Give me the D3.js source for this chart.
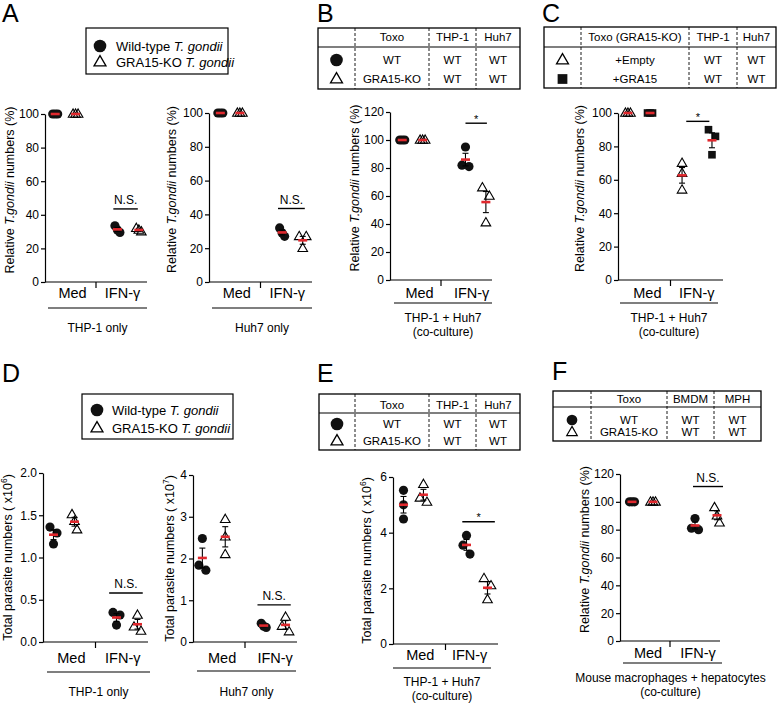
<!DOCTYPE html>
<html><head><meta charset="utf-8">
<script src="https://cdn.jsdelivr.net/npm/d3@7"></script>
<style>body{margin:0;background:#fff}</style>
</head><body><svg id="c" width="777" height="703"></svg>
<script>
// ---------------- DATA ----------------
const conditions = ["Med", "IFN-γ"];
// A: relative T. gondii numbers (%), [Med values, IFN-γ values]
const aThpWT = [[100,100,100],[33.5,29.5,31]];
const aThpKO = [[100,100,100],[32,31,30]];
const aHuhWT = [[100,100,100],[32,29,27]];
const aHuhKO = [[100,100,100],[27,27,20]];
// B: THP-1 + Huh7 co-culture (%)
const bWT = [[100,100,100],[95,81,82]];
const bKO = [[100,100,100],[66,60,41]];
// C: GRA15-KO +Empty / +GRA15 (%)
const cEmpty = [[100,100,100],[70,64,54]];
const cGRA15 = [[100,100,100],[90,86,75]];
// D: total parasite numbers
const dThpWT = [[1.36,1.29,1.16],[0.20,0.35,0.32]];
const dThpKO = [[1.33,1.51,1.43],[0.13,0.32,0.18]];
const dHuhWT = [[1.72,2.48,1.84],[0.45,0.35,0.38]];
const dHuhKO = [[2.94,2.52,2.10],[0.25,0.60,0.38]];
// E: THP-1 + Huh7 total parasite numbers (x10^6)
const eWT = [[5.52,5.0,4.49],[3.23,3.9,3.55]];
const eKO = [[5.1,5.74,5.25],[2.36,2.1,1.6]];
// F: mouse macrophages + hepatocytes (%)
const fWT = [[100,100,100],[88,80,81]];
const fKO = [[100,100,100],[96,90,85]];
// tick labels
const ticksPct100 = [0,20,40,60,80,100];
const ticksPct120 = [0,20,40,60,80,100,120];
const ticksD1 = [0,0.5,1.0,1.5,2.0];
const ticksD2 = [0,1,2,3,4];
const ticksE = [0,2,4,6];
// table texts
const tableHeadBE = ["Toxo","THP-1","Huh7"];
const tableHeadC = ["Toxo (GRA15-KO)","THP-1","Huh7"];
const tableHeadF = ["Toxo","BMDM","MPH"];
const tableRowsBEF = [["WT","WT","WT"],["GRA15-KO","WT","WT"]];
const tableRowsC = [["+Empty","WT","WT"],["+GRA15","WT","WT"]];

// ---------------- DRAWING ----------------
const FONT = "'Liberation Sans', Arial, Helvetica, sans-serif";
const svg = d3.select("#c").attr("font-family", FONT);
const RED = "#e0282d";
const SIZES = {
  plot: {circle: 66, triangle: 40, square: 58, sw: 1.1},
  big: {circle: 125, triangle: 62, square: 95, sw: 1.3},
  mid: {circle: 90, triangle: 48, square: 70, sw: 1.2}
};

function drawMarker(g, shape, x, y, kind) {
  const sz = SIZES[kind];
  const type = shape === "circle" ? d3.symbolCircle : shape === "triangle" ? d3.symbolTriangle : d3.symbolSquare;
  const p = g.append("path")
    .attr("d", d3.symbol().type(type).size(sz[shape])())
    .attr("transform", `translate(${x},${y + (shape === "triangle" ? 0.5 : 0)})`);
  if (shape === "triangle") p.attr("fill", "none").attr("stroke", "#000").attr("stroke-width", sz.sw);
  else p.attr("fill", "#111");
}

function swarm(pys, r) {
  const idx = pys.map((v, i) => i).sort((a, b) => pys[a] - pys[b]);
  const clusters = []; let cur = [idx[0]];
  for (let k = 1; k < idx.length; k++) {
    if (pys[idx[k]] - pys[idx[k - 1]] < r * 2) cur.push(idx[k]);
    else { clusters.push(cur); cur = [idx[k]]; }
  }
  clusters.push(cur);
  const off = new Array(pys.length).fill(0);
  clusters.forEach(c => {
    const n = c.length, step = n >= 3 ? 2.5 : 7;
    c.forEach((i, j) => off[i] = (j - (n - 1) / 2) * step);
  });
  return off;
}

function drawPanel(p) {
  const g = svg.append("g");
  const y = d3.scaleLinear().domain([0, p.max]).range([p.y0, p.yTop]);
  const x = d3.scaleLinear().domain([0, 1]).range([p.ax, p.xEnd]);
  const pos = p.pos || [0.1, 0.3, 0.71, 0.92];
  const lab = p.lab || [0.27, 0.76];

  const ya = g.append("g").attr("transform", `translate(${p.ax},0)`)
    .call(d3.axisLeft(y).tickValues(p.ticks).tickSize(4).tickSizeOuter(0).tickPadding(2).tickFormat(p.fmt));
  ya.selectAll("text").attr("font-size", 12).attr("font-family", FONT).attr("fill", "#000");
  ya.selectAll("line,path").attr("stroke", "#000").attr("stroke-width", 1.2);

  g.append("line").attr("x1", p.ax).attr("x2", p.xEnd).attr("y1", p.y0).attr("y2", p.y0)
    .attr("stroke", "#000").attr("stroke-width", 1.2);
  g.append("line").attr("x1", x(0.5)).attr("x2", x(0.5)).attr("y1", p.y0).attr("y2", p.y0 + 6)
    .attr("stroke", "#000").attr("stroke-width", 1.2);

  conditions.forEach((c, i) => g.append("text").attr("x", x(lab[i])).attr("y", p.y0 + p.labOff)
    .attr("text-anchor", "middle").attr("font-size", 14.5).text(c));

  g.append("line").attr("x1", p.under[0]).attr("x2", p.under[1]).attr("y1", p.underY).attr("y2", p.underY)
    .attr("stroke", "#000").attr("stroke-width", 1.1);
  p.caption.forEach((c, i) => g.append("text").attr("x", (p.under[0] + p.under[1]) / 2 + (p.capDx || 0))
    .attr("y", p.capY + i * 14).attr("text-anchor", "middle").attr("font-size", 12).text(c));

  // y label
  const yl = g.append("text").attr("text-anchor", "middle").attr("font-size", 12.5)
    .attr("transform", `translate(${p.ylx + 4},${(p.y0 + p.yTop) / 2 + (p.yldy || 0)}) rotate(-90)`);
  if (p.ylab === "rel") {
    yl.append("tspan").text("Relative ");
    yl.append("tspan").attr("font-style", "italic").text("T.gondii");
    yl.append("tspan").text(" numbers (%)");
  } else {
    yl.append("tspan").text("Total parasite numbers ( x10");
    yl.append("tspan").attr("font-size", 8.5).attr("dy", -5).text(p.ylab);
    yl.append("tspan").attr("dy", 5).text(")");
  }

  // data
  const r = 4.5;
  p.series.forEach((s, si) => {
    s.data.forEach((vals, ci) => {
      const cx = x(pos[ci * 2 + si]);
      const pys = vals.map(v => y(v));
      const offs = swarm(pys, r);
      vals.forEach((v, k) => drawMarker(g, s.shape, cx + offs[k], y(v), "plot"));
      const m = d3.mean(vals), sem = d3.deviation(vals) / Math.sqrt(vals.length);
      if (sem > 0) {
        g.append("line").attr("x1", cx).attr("x2", cx).attr("y1", y(m - sem)).attr("y2", y(m + sem))
          .attr("stroke", "#000").attr("stroke-width", 1.1);
        [m - sem, m + sem].forEach(e => g.append("line").attr("x1", cx - 3).attr("x2", cx + 3)
          .attr("y1", y(e)).attr("y2", y(e)).attr("stroke", "#000").attr("stroke-width", 1.1));
      }
      g.append("line").attr("x1", cx - 4.5).attr("x2", cx + 4.5).attr("y1", y(m)).attr("y2", y(m))
        .attr("stroke", RED).attr("stroke-width", 2.6);
    });
  });

  // significance
  const sy = y(p.sig.y);
  g.append("line").attr("x1", x(p.sig.x[0])).attr("x2", x(p.sig.x[1])).attr("y1", sy).attr("y2", sy)
    .attr("stroke", "#000").attr("stroke-width", 1.4);
  g.append("text").attr("x", (x(p.sig.x[0]) + x(p.sig.x[1])) / 2)
    .attr("y", p.sig.text === "*" ? sy - 0.5 : sy - 4.5)
    .attr("text-anchor", "middle").attr("font-size", p.sig.text === "*" ? 11 : 12).text(p.sig.text);
}

function drawLegend(L) {
  const g = svg.append("g");
  g.append("rect").attr("x", L.x1).attr("y", L.y1).attr("width", L.x2 - L.x1).attr("height", L.y2 - L.y1)
    .attr("fill", "none").attr("stroke", "#000").attr("stroke-width", 1.2);
  [["circle", "Wild-type "], ["triangle", "GRA15-KO "]].forEach((e, i) => {
    const yy = L.ys[i];
    drawMarker(g, e[0], L.mx, yy, "big");
    const t = g.append("text").attr("x", L.tx).attr("y", yy + 4.5).attr("font-size", 13);
    t.append("tspan").text(e[1]);
    t.append("tspan").attr("font-style", "italic").text("T. gondii");
  });
}

function drawTable(T) {
  const g = svg.append("g");
  g.append("rect").attr("x", T.x1).attr("y", T.y1).attr("width", T.x2 - T.x1).attr("height", T.y2 - T.y1)
    .attr("fill", "none").attr("stroke", "#000").attr("stroke-width", 1.3);
  g.append("line").attr("x1", T.x1).attr("x2", T.x2).attr("y1", T.hy).attr("y2", T.hy)
    .attr("stroke", "#000").attr("stroke-width", 1.1);
  T.cols.forEach(cx => g.append("line").attr("x1", cx).attr("x2", cx).attr("y1", T.y1).attr("y2", T.y2)
    .attr("stroke", "#000").attr("stroke-width", 0.9).attr("stroke-dasharray", "3,2"));
  const edges = T.cols.concat([T.x2]);
  const centers = [0, 1, 2].map(i => (edges[i] + edges[i + 1]) / 2);
  T.head.forEach((h, i) => g.append("text").attr("x", centers[i]).attr("y", T.ty[0])
    .attr("text-anchor", "middle").attr("font-size", 11.5).text(h));
  T.rows.forEach((row, ri) => {
    drawMarker(g, T.shapes[ri], (T.x1 + T.cols[0]) / 2, T.ty[ri + 1] - 4, T.kind || "big");
    row.forEach((c, i) => g.append("text").attr("x", centers[i]).attr("y", T.ty[ri + 1])
      .attr("text-anchor", "middle").attr("font-size", 11.5).text(c));
  });
}

function letter(t, x, yy) {
  svg.append("text").attr("x", x).attr("y", yy).attr("font-size", 25).text(t);
}

// ---- Panel A ----
letter("A", 2, 22);
drawLegend({x1: 86, x2: 228, y1: 28, y2: 74, mx: 100, tx: 116, ys: [46, 62]});
drawPanel({ax: 45, xEnd: 147, y0: 282, yTop: 114, max: 100, ticks: ticksPct100, fmt: d3.format("d"),
  labOff: 16, underY: 308, under: [48, 147], caption: ["THP-1 only"], capY: 332, ylx: 10, ylab: "rel", yldy: -8,
  series: [{shape: "circle", data: aThpWT}, {shape: "triangle", data: aThpKO}],
  sig: {text: "N.S.", y: 43.5, x: [0.67, 0.91]}});
drawPanel({ax: 209, xEnd: 312, y0: 282, yTop: 113, max: 100, ticks: ticksPct100, fmt: d3.format("d"),
  pos: [0.11, 0.30, 0.71, 0.91],
  labOff: 16, underY: 308, under: [212, 312], caption: ["Huh7 only"], capY: 332, ylx: 172, ylab: "rel", yldy: -8,
  series: [{shape: "circle", data: aHuhWT}, {shape: "triangle", data: aHuhKO}],
  sig: {text: "N.S.", y: 43.5, x: [0.67, 0.93]}});

// ---- Panel B ----
letter("B", 317, 22);
drawTable({x1: 318, x2: 520, y1: 28, y2: 89, hy: 47, cols: [355, 429, 476], head: tableHeadBE,
  rows: tableRowsBEF, shapes: ["circle", "triangle"], ty: [41, 64, 83]});
drawPanel({ax: 390, xEnd: 492, y0: 280, yTop: 112, max: 120, ticks: ticksPct120, fmt: d3.format("d"),
  pos: [0.12, 0.32, 0.74, 0.94], lab: [0.29, 0.8],
  labOff: 18, underY: 303, under: [394, 492], caption: ["THP-1 + Huh7", "(co-culture)"], capY: 322, ylx: 355, ylab: "rel", yldy: -8,
  series: [{shape: "circle", data: bWT}, {shape: "triangle", data: bKO}],
  sig: {text: "*", y: 112, x: [0.74, 0.95]}});

// ---- Panel C ----
letter("C", 542, 22);
drawTable({x1: 544, x2: 776, y1: 27, y2: 88, hy: 47, cols: [581, 689, 737], head: tableHeadC,
  rows: tableRowsC, shapes: ["triangle", "square"], ty: [41, 64, 83]});
drawPanel({ax: 618, xEnd: 723, y0: 280, yTop: 113, max: 100, ticks: ticksPct100, fmt: d3.format("d"),
  pos: [0.095, 0.305, 0.61, 0.895], lab: [0.28, 0.75],
  labOff: 18, underY: 303, under: [620, 718], caption: ["THP-1 + Huh7", "(co-culture)"], capY: 322, ylx: 580, ylab: "rel", yldy: -8,
  series: [{shape: "triangle", data: cEmpty}, {shape: "square", data: cGRA15}],
  sig: {text: "*", y: 95, x: [0.65, 0.87]}});

// ---- Panel D ----
letter("D", 2, 382);
drawLegend({x1: 82, x2: 233, y1: 394, y2: 439, mx: 97, tx: 112, ys: [410, 428]});
drawPanel({ax: 43, xEnd: 148, y0: 642, yTop: 473, max: 2, ticks: ticksD1, fmt: d3.format(".1f"),
  labOff: 21, underY: 672, under: [47, 150], caption: ["THP-1 only"], capY: 696, ylx: 8, ylab: "6",
  pos: [0.1, 0.3, 0.7, 0.9],
  series: [{shape: "circle", data: dThpWT}, {shape: "triangle", data: dThpKO}],
  sig: {text: "N.S.", y: 0.58, x: [0.63, 0.95]}});
drawPanel({ax: 193, xEnd: 297, y0: 642, yTop: 475, max: 4, ticks: ticksD2, fmt: d3.format("d"),
  labOff: 21, underY: 671, under: [197, 296], caption: ["Huh7 only"], capY: 696, ylx: 170, ylab: "7",
  pos: [0.09, 0.31, 0.68, 0.89], lab: [0.28, 0.79],
  series: [{shape: "circle", data: dHuhWT}, {shape: "triangle", data: dHuhKO}],
  sig: {text: "N.S.", y: 0.89, x: [0.62, 0.94]}});

// ---- Panel E ----
letter("E", 317, 382);
drawTable({x1: 319, x2: 520, y1: 394, y2: 450, hy: 413, cols: [355, 429, 476], head: tableHeadBE,
  rows: tableRowsBEF, shapes: ["circle", "triangle"], ty: [409, 428, 445]});
drawPanel({ax: 393, xEnd: 498, y0: 644, yTop: 477, max: 6, ticks: ticksE, fmt: d3.format("d"),
  pos: [0.1, 0.29, 0.7, 0.9], lab: [0.26, 0.73],
  labOff: 16, underY: 668, under: [393, 491], caption: ["THP-1 + Huh7", "(co-culture)"], capY: 686, ylx: 367, ylab: "6",
  series: [{shape: "circle", data: eWT}, {shape: "triangle", data: eKO}],
  sig: {text: "*", y: 4.39, x: [0.66, 0.97]}});

// ---- Panel F ----
letter("F", 552, 380);
drawTable({x1: 553, x2: 761, y1: 391, y2: 441, hy: 407, cols: [591, 667, 714], head: tableHeadF,
  rows: tableRowsBEF, shapes: ["circle", "triangle"], ty: [403, 424, 436], kind: "mid"});
drawPanel({ax: 620, xEnd: 720, y0: 641, yTop: 474, max: 120, ticks: ticksPct120, fmt: d3.format("d"),
  pos: [0.12, 0.33, 0.75, 0.97], lab: [0.28, 0.78],
  labOff: 17, underY: 663, under: [623, 722], caption: ["Mouse macrophages + hepatocytes", "(co-culture)"], capY: 682, ylx: 585, ylab: "rel", yldy: -8,
  capDx: -2,
  series: [{shape: "circle", data: fWT}, {shape: "triangle", data: fKO}],
  sig: {text: "N.S.", y: 111, x: [0.73, 1.03]}});
</script>
</body></html>
